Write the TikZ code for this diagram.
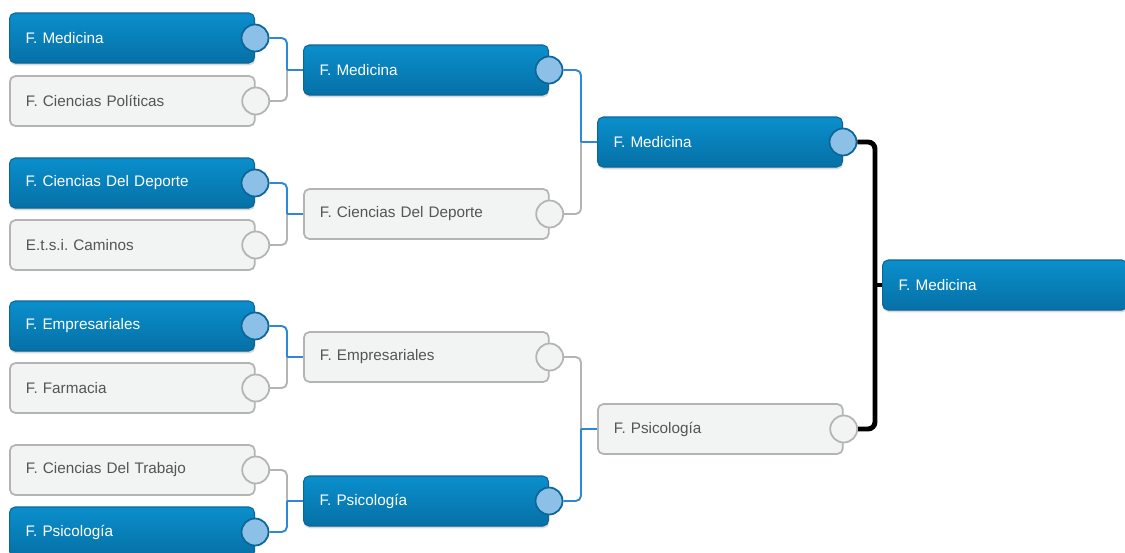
\documentclass[tikz,border=0pt]{standalone}
\usepackage{fontspec}
\setmainfont{Liberation Sans}
\usetikzlibrary{shadows}
\frenchspacing
\definecolor{azulA}{HTML}{0A8FCC}
\definecolor{azulB}{HTML}{0670A6}
\definecolor{azulBorde}{HTML}{0B6699}
\definecolor{azulCirc}{HTML}{8CC0E6}
\definecolor{azulLinea}{HTML}{2E88DA}
\definecolor{grisFondo}{HTML}{F2F3F3}
\definecolor{grisBorde}{HTML}{B4B4B4}
\definecolor{grisTexto}{HTML}{555555}
\tikzset{
  equipo/.style={
    rectangle, rounded corners=3.2pt, anchor=west,
    minimum width=4.9cm, minimum height=1cm,
    text width=4.26cm, inner xsep=0.32cm, align=left,
    font=\fontsize{8.7}{10}\selectfont
  },
  ganador/.style={
    equipo, draw=azulBorde, line width=0.6pt,
    top color=azulA, bottom color=azulB, text=white,
    drop shadow={shadow xshift=0.4pt, shadow yshift=-1.3pt, opacity=0.3}
  },
  perdedor/.style={
    equipo, draw=grisBorde, line width=1pt,
    fill=grisFondo, text=grisTexto
  },
  marca/.style={circle, minimum size=0.54cm, inner sep=0pt, line width=1pt},
  marcaG/.style={marca, draw=azulBorde, fill=azulCirc},
  marcaP/.style={marca, draw=grisBorde, fill=grisFondo},
  lineaG/.style={draw=azulLinea, line width=1.1pt, rounded corners=3pt},
  lineaP/.style={draw=grisBorde, line width=1.1pt, rounded corners=3pt},
  lineaF/.style={draw=black, line width=2.8pt, rounded corners=4pt}
}

\begin{document}
\begin{tikzpicture}[x=0.02cm, y=-0.02cm]
    \useasboundingbox (0,0) rectangle (1125,552);

    % cruces
    \coordinate (j1a) at (287,70);
    \coordinate (j1b) at (287,214);
    \coordinate (j1c) at (287,357);
    \coordinate (j1d) at (287,501);
    \coordinate (j2a) at (581,142);
    \coordinate (j2b) at (581,429);
    \coordinate (jf) at (875,285);

    % primera ronda
    \node[ganador] (r1a) at (9,38) {F. Medicina};
    \node[perdedor] (r1b) at (9,101) {F. Ciencias Políticas};
    \node[ganador] (r1c) at (9,183) {F. Ciencias Del Deporte};
    \node[perdedor] (r1d) at (9,245) {E.t.s.i. Caminos};
    \node[ganador] (r1e) at (9,326) {F. Empresariales};
    \node[perdedor] (r1f) at (9,388) {F. Farmacia};
    \node[perdedor] (r1g) at (9,470) {F. Ciencias Del Trabajo};
    \node[ganador] (r1h) at (9,532) {F. Psicología};

    % segunda ronda
    \node[ganador] (r2a) at (303,70) {F. Medicina};
    \node[perdedor] (r2b) at (303,214) {F. Ciencias Del Deporte};
    \node[perdedor] (r2c) at (303,357) {F. Empresariales};
    \node[ganador] (r2d) at (303,501) {F. Psicología};

    % semifinal y final
    \node[ganador] (r3a) at (597,142) {F. Medicina};
    \node[perdedor] (r3b) at (597,429) {F. Psicología};
    \node[ganador] (fin) at (882,285) {F. Medicina};

    % marcas
    \node[marcaG] (c1a) at (r1a.east) {};
    \node[marcaP] (c1b) at (r1b.east) {};
    \node[marcaG] (c1c) at (r1c.east) {};
    \node[marcaP] (c1d) at (r1d.east) {};
    \node[marcaG] (c1e) at (r1e.east) {};
    \node[marcaP] (c1f) at (r1f.east) {};
    \node[marcaP] (c1g) at (r1g.east) {};
    \node[marcaG] (c1h) at (r1h.east) {};
    \node[marcaG] (c2a) at (r2a.east) {};
    \node[marcaP] (c2b) at (r2b.east) {};
    \node[marcaP] (c2c) at (r2c.east) {};
    \node[marcaG] (c2d) at (r2d.east) {};
    \node[marcaG] (c3a) at (r3a.east) {};
    \node[marcaP] (c3b) at (r3b.east) {};

    % conexiones
    \draw[lineaP] (c1b.east) -| (j1a);
    \draw[lineaG] (c1a.east) -| (j1a);
    \draw[lineaG] (j1a) -- (r2a.west);
    \draw[lineaP] (c1d.east) -| (j1b);
    \draw[lineaG] (c1c.east) -| (j1b);
    \draw[lineaG] (j1b) -- (r2b.west);
    \draw[lineaP] (c1f.east) -| (j1c);
    \draw[lineaG] (c1e.east) -| (j1c);
    \draw[lineaG] (j1c) -- (r2c.west);
    \draw[lineaP] (c1g.east) -| (j1d);
    \draw[lineaG] (c1h.east) -| (j1d);
    \draw[lineaG] (j1d) -- (r2d.west);
    \draw[lineaP] (c2b.east) -| (j2a);
    \draw[lineaG] (c2a.east) -| (j2a);
    \draw[lineaG] (j2a) -- (r3a.west);
    \draw[lineaP] (c2c.east) -| (j2b);
    \draw[lineaG] (c2d.east) -| (j2b);
    \draw[lineaG] (j2b) -- (r3b.west);
    \draw[lineaF] (c3a.east) -| (jf);
    \draw[lineaF] (c3b.east) -| (jf);
    \draw[lineaF] (jf) -- (fin.west);
\end{tikzpicture}
\end{document}
